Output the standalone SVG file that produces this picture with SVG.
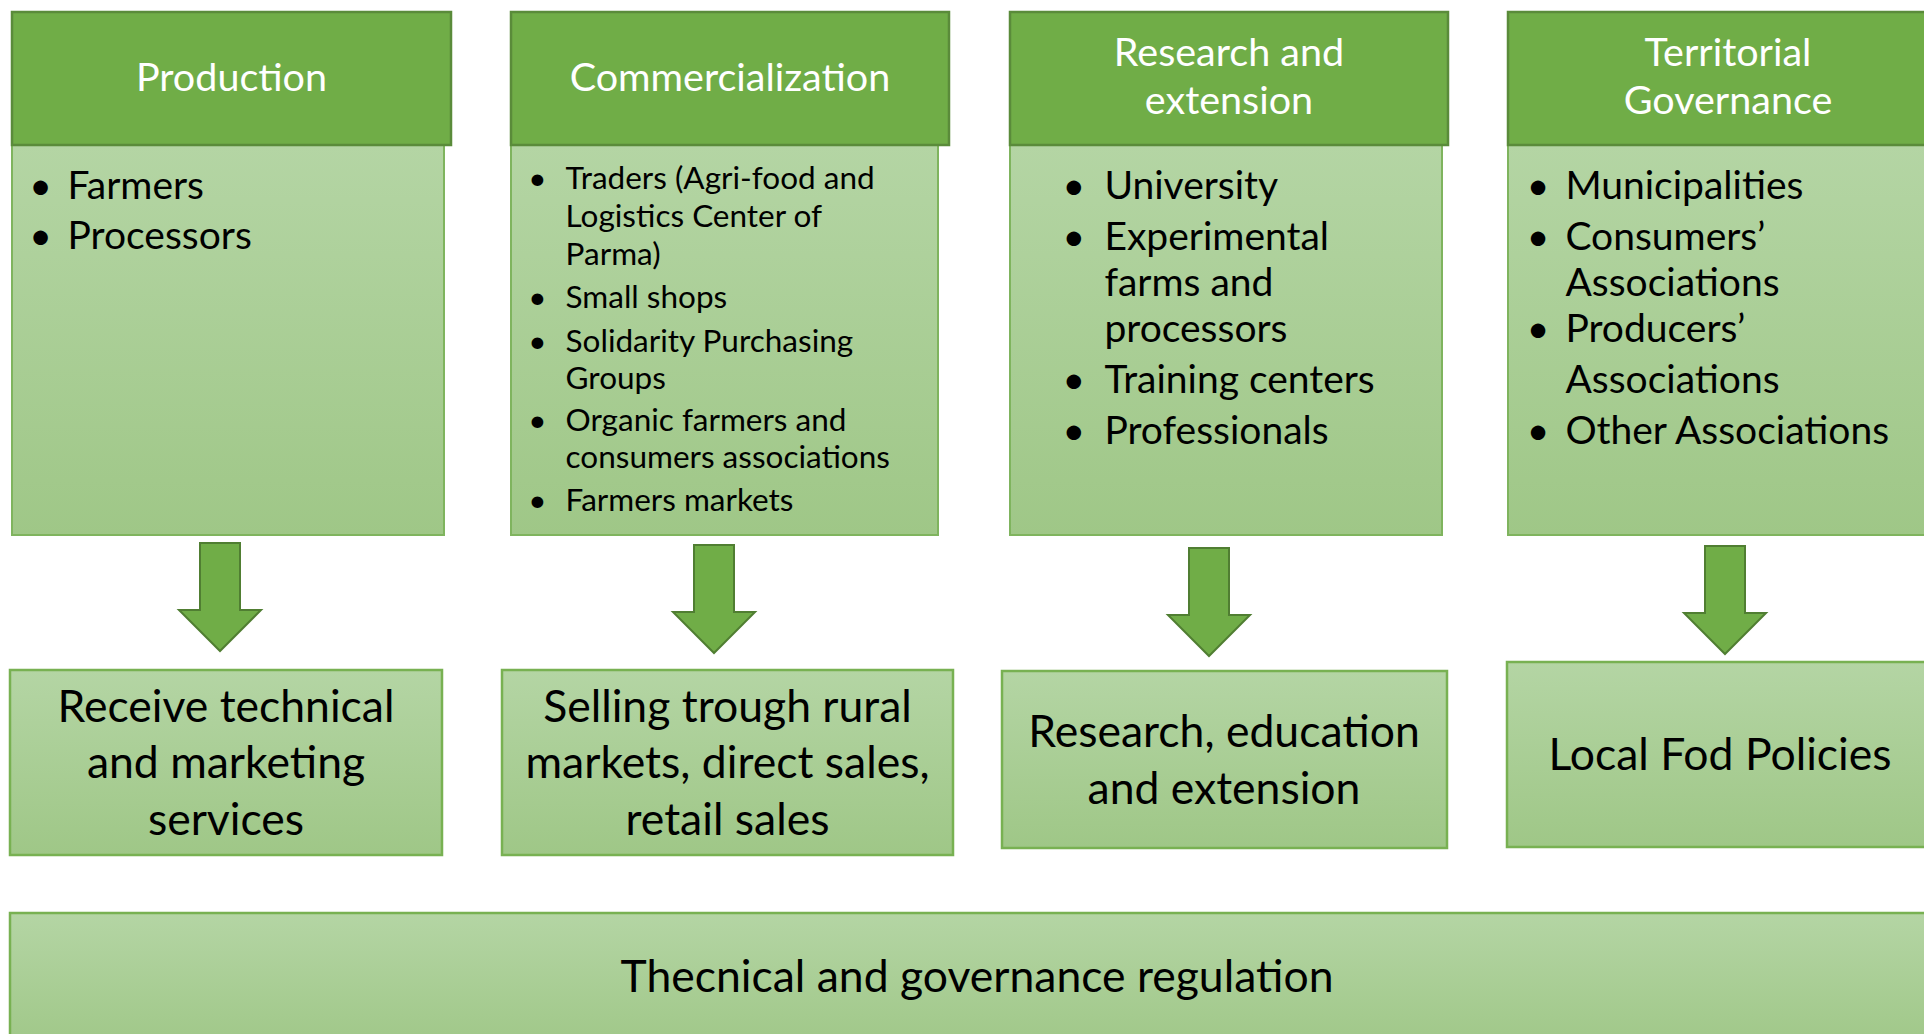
<svg xmlns="http://www.w3.org/2000/svg" width="1924" height="1034" viewBox="0 0 1924 1034">
<defs>
<linearGradient id="lg" x1="0" y1="0" x2="0" y2="1">
<stop offset="0" stop-color="#B4D5A4"/>
<stop offset="1" stop-color="#9FC787"/>
</linearGradient>
<path id="arrow" d="M -20 0 H 20 V 67 H 41 L 0 108 L -41 67 H -20 Z"/>
<style>
.hdr{fill:#70AD47;stroke:#5A8B3A;stroke-width:2.5}
.body{fill:url(#lg);stroke:#7FB45E;stroke-width:2}
.out{fill:url(#lg);stroke:#78B152;stroke-width:2.5}
.ht{font-family:Lato,"Liberation Sans",sans-serif;fill:#FFFFFF;font-size:39.5px;text-anchor:middle}
.bt{font-family:Lato,"Liberation Sans",sans-serif;fill:#000000;font-size:39px}
.ct{font-family:Lato,"Liberation Sans",sans-serif;fill:#000000;font-size:31.5px}
.ot{font-family:Lato,"Liberation Sans",sans-serif;fill:#000000;font-size:44.5px;text-anchor:middle}
.bul{text-anchor:middle}
.arr{fill:#70AD47;stroke:#507E32;stroke-width:2}
</style>
</defs>
<rect width="1924" height="1034" fill="#FFFFFF"/>

<g id="production">
<rect class="body" x="12" y="145" width="432" height="390"/>
<rect class="hdr" x="12" y="12" width="439" height="133"/>
<text class="ht" x="231.5" y="91">Production</text>
<text class="bt bul" x="40.6" y="198.5">•</text>
<text class="bt" x="67.5" y="198.5">Farmers</text>
<text class="bt bul" x="40.6" y="249">•</text>
<text class="bt" x="67.5" y="249">Processors</text>
</g>

<g id="commercialization">
<rect class="body" x="511" y="145" width="427" height="390"/>
<rect class="hdr" x="511" y="12" width="438" height="133"/>
<text class="ht" x="730" y="91">Commercialization</text>
<text class="ct bul" x="537.5" y="189.3">•</text>
<text class="ct" x="565.6" y="189.3">Traders (Agri-food and</text>
<text class="ct" x="565.6" y="226.8">Logistics Center of</text>
<text class="ct" x="565.6" y="265">Parma)</text>
<text class="ct bul" x="537.5" y="307.9">•</text>
<text class="ct" x="565.6" y="307.9">Small shops</text>
<text class="ct bul" x="537.5" y="351.8">•</text>
<text class="ct" x="565.6" y="351.8">Solidarity Purchasing</text>
<text class="ct" x="565.6" y="388.6">Groups</text>
<text class="ct bul" x="537.5" y="431.4">•</text>
<text class="ct" x="565.6" y="431.4">Organic farmers and</text>
<text class="ct" x="565.6" y="468">consumers associations</text>
<text class="ct bul" x="537.5" y="510.7">•</text>
<text class="ct" x="565.6" y="510.7">Farmers markets</text>
</g>

<g id="research">
<rect class="body" x="1010" y="145" width="432" height="390"/>
<rect class="hdr" x="1010" y="12" width="438" height="133"/>
<text class="ht" x="1229" y="66">Research and</text>
<text class="ht" x="1229" y="113.6">extension</text>
<text class="bt bul" x="1073.7" y="198.5">•</text>
<text class="bt" x="1104.4" y="198.5">University</text>
<text class="bt bul" x="1073.7" y="249.5">•</text>
<text class="bt" x="1104.4" y="249.5">Experimental</text>
<text class="bt" x="1104.4" y="295.5">farms and</text>
<text class="bt" x="1104.4" y="342">processors</text>
<text class="bt bul" x="1073.7" y="393">•</text>
<text class="bt" x="1104.4" y="393">Training centers</text>
<text class="bt bul" x="1073.7" y="444">•</text>
<text class="bt" x="1104.4" y="444">Professionals</text>
</g>

<g id="territorial">
<rect class="body" x="1508" y="145" width="432" height="390"/>
<rect class="hdr" x="1508" y="12" width="439" height="133"/>
<text class="ht" x="1728" y="66">Territorial</text>
<text class="ht" x="1728" y="113.6">Governance</text>
<text class="bt bul" x="1538" y="198.5">•</text>
<text class="bt" x="1565.4" y="198.5">Municipalities</text>
<text class="bt bul" x="1538" y="249.5">•</text>
<text class="bt" x="1565.4" y="249.5">Consumers’</text>
<text class="bt" x="1565.4" y="295.5">Associations</text>
<text class="bt bul" x="1538" y="342">•</text>
<text class="bt" x="1565.4" y="342">Producers’</text>
<text class="bt" x="1565.4" y="393">Associations</text>
<text class="bt bul" x="1538" y="444">•</text>
<text class="bt" x="1565.4" y="444">Other Associations</text>
</g>

<g id="connectors">
<use href="#arrow" class="arr" x="220" y="543"/>
<use href="#arrow" class="arr" x="714" y="545"/>
<use href="#arrow" class="arr" x="1209" y="548"/>
<use href="#arrow" class="arr" x="1725" y="546"/>
</g>

<g id="services">
<rect class="out" x="10" y="670" width="432" height="185"/>
<text class="ot" x="226" y="721.7">Receive technical</text>
<text class="ot" x="226" y="778">and marketing</text>
<text class="ot" x="226" y="835">services</text>
</g>

<g id="selling">
<rect class="out" x="502" y="670" width="451" height="185"/>
<text class="ot" x="727.5" y="721.7">Selling trough rural</text>
<text class="ot" x="727.5" y="778">markets, direct sales,</text>
<text class="ot" x="727.5" y="835">retail sales</text>
</g>

<g id="education">
<rect class="out" x="1002" y="671" width="445" height="177"/>
<text class="ot" x="1224" y="747">Research, education</text>
<text class="ot" x="1224" y="804">and extension</text>
</g>

<g id="policies">
<rect class="out" x="1507" y="662" width="430" height="185"/>
<text class="ot" x="1720" y="770">Local Fod Policies</text>
</g>

<g id="regulation">
<rect class="out" x="10" y="913" width="1934" height="140"/>
<text class="ot" x="977" y="991.7">Thecnical and governance regulation</text>
</g>
</svg>
